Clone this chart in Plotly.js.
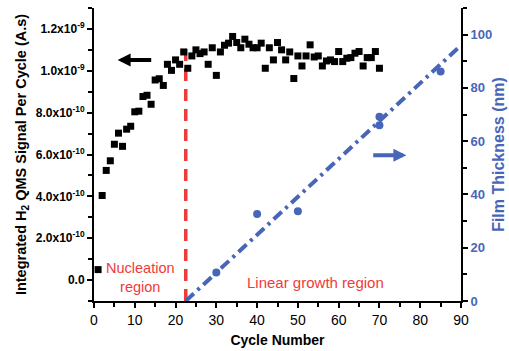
<!DOCTYPE html>
<html>
<head>
<meta charset="utf-8">
<script src="https://cdn.plot.ly/plotly-3.0.1.min.js"></script>
<style>html,body{margin:0;padding:0;background:#fff;}#chart{width:509px;height:351px;}</style>
</head>
<body>
<div id="chart"></div>
<script>
// Integrated H2 QMS signal per cycle (A.s)
const signalCycles = [1,2,3,4,5,6,7,8,9,10,11,12,13,14,15,16,17,18,19,20,21,22,23,24,25,26,27,28,29,30,31,32,33,34,35,36,37,38,39,40,41,42,43,44,45,46,47,48,49,50,51,52,53,54,55,56,57,58,59,60,61,62,63,64,65,66,67,68,69,70];
const signalValues = [0.50e-10,4.04e-10,5.24e-10,5.70e-10,6.49e-10,7.02e-10,6.39e-10,7.21e-10,7.35e-10,8.04e-10,
  8.07e-10,8.77e-10,8.83e-10,8.40e-10,9.56e-10,9.62e-10,9.30e-10,10.31e-10,10.02e-10,10.52e-10,
  10.31e-10,10.90e-10,10.12e-10,10.71e-10,11.00e-10,10.82e-10,10.90e-10,10.31e-10,11.10e-10,9.78e-10,
  10.90e-10,11.22e-10,11.32e-10,11.64e-10,11.35e-10,11.10e-10,11.51e-10,11.27e-10,11.10e-10,11.10e-10,
  11.32e-10,10.12e-10,11.10e-10,10.52e-10,11.35e-10,11.00e-10,10.52e-10,10.90e-10,9.63e-10,10.71e-10,
  10.23e-10,10.71e-10,11.24e-10,10.66e-10,10.71e-10,10.23e-10,10.47e-10,10.52e-10,10.44e-10,10.92e-10,
  10.44e-10,10.60e-10,10.63e-10,10.84e-10,10.92e-10,10.23e-10,10.63e-10,10.63e-10,10.92e-10,10.12e-10];
// Film thickness (nm)
const thicknessCycles = [30,40,50,70,70,85];
const thicknessValues = [10.7,32.7,33.7,69.2,66.0,86.2];
// Linear growth fit
const fitCycles = [22.5,90];
const fitThickness = [0,96];
// Nucleation boundary
const boundaryCycles = [22.5,22.5];
const boundarySignal = [-1.0e-10,11.4e-10];
// Tick labels
const leftTickVals = [0,2e-10,4e-10,6e-10,8e-10,10e-10,12e-10];
const leftTickText = ['0.0','2.0x10<sup>-10</sup>','4.0x10<sup>-10</sup>','6.0x10<sup>-10</sup>','8.0x10<sup>-10</sup>','1.0x10<sup>-9</sup>','1.2x10<sup>-9</sup>'];
const rightTickVals = [0,20,40,60,80,100];
const xTickVals = [0,10,20,30,40,50,60,70,80,90];

const RED = '#ef3b3b';
const BLUE = '#4766ba';
const FONT = 'Arial, "Liberation Sans", sans-serif';

const traces = [
  {x: boundaryCycles, y: boundarySignal, type:'scatter', mode:'lines', yaxis:'y',
   line:{color:RED, width:3.5, dash:'12px,8px'}, hoverinfo:'skip'},
  {x: fitCycles, y: fitThickness, type:'scatter', mode:'lines', yaxis:'y2',
   line:{color:BLUE, width:4, dash:'11px,5px,3px,5px'}, cliponaxis:false, hoverinfo:'skip'},
  {x: thicknessCycles, y: thicknessValues, type:'scatter', mode:'markers', yaxis:'y2',
   marker:{color:BLUE, size:8, symbol:'circle'}},
  {x: signalCycles, y: signalValues, type:'scatter', mode:'markers', yaxis:'y',
   marker:{color:'#000', size:7, symbol:'square'}, cliponaxis:false}
];

const layout = {
  width:509, height:351,
  margin:{l:94, r:48, t:8, b:50},
  paper_bgcolor:'#fff', plot_bgcolor:'#fff',
  showlegend:false,
  font:{family:FONT, color:'#000'},
  xaxis:{range:[0,90], tickvals:xTickVals, ticks:'outside', ticklen:5, tickwidth:2, tickcolor:'#000',
    showline:true, linecolor:'#000', linewidth:2, showgrid:false, zeroline:false,
    tickfont:{size:14, color:'#000'},
    minor:{dtick:5, ticks:'outside', ticklen:4, tickwidth:2, tickcolor:'#000'},
    title:{text:'<b>Cycle Number</b>', font:{size:14, color:'#000'}, standoff:8}},
  yaxis:{range:[-1.0e-10,13.0e-10], tickvals:leftTickVals, ticktext:leftTickText, ticks:'outside', ticklen:5, tickwidth:2, tickcolor:'#000',
    showline:true, linecolor:'#000', linewidth:2, showgrid:false, zeroline:false,
    tickfont:{size:12, color:'#000', weight:'bold'},
    minor:{dtick:1e-10, tick0:0, ticks:'outside', ticklen:4, tickwidth:2, tickcolor:'#000'},
    title:{text:'<b>Integrated H<sub>2</sub> QMS Signal Per Cycle (A.s)</b>', font:{size:14.5, color:'#000'}, standoff:6}},
  yaxis2:{range:[0,110], overlaying:'y', side:'right', tickvals:rightTickVals, ticks:'outside', ticklen:5, tickwidth:2, tickcolor:'#000',
    showline:true, linecolor:'#000', linewidth:2, showgrid:false, zeroline:false,
    tickfont:{size:13, color:BLUE, weight:'bold'},
    minor:{dtick:10, ticks:'outside', ticklen:4, tickwidth:2, tickcolor:'#000'},
    title:{text:'<b>Film Thickness (nm)</b>', font:{size:16, color:BLUE}, standoff:1}},
  annotations:[
    {x:5.8, y:10.52e-10, xref:'x', yref:'y', ax:14.4, ay:10.52e-10, axref:'x', ayref:'y',
     showarrow:true, arrowhead:2, arrowsize:0.65, arrowwidth:4, arrowcolor:'#000', text:''},
    {x:76.6, y:54.7, xref:'x', yref:'y2', ax:68.1, ay:54.7, axref:'x', ayref:'y2',
     showarrow:true, arrowhead:2, arrowsize:0.65, arrowwidth:4, arrowcolor:BLUE, text:''},
    {x:11.3, y:0.1e-10, xref:'x', yref:'y', showarrow:false, text:'Nucleation<br>region',
     font:{size:14.5, color:RED}, align:'center'},
    {x:54.2, y:-0.1e-10, xref:'x', yref:'y', showarrow:false, text:'Linear growth region',
     font:{size:15, color:RED}}
  ]
};

Plotly.newPlot('chart', traces, layout, {displayModeBar:false, staticPlot:true});
</script>
</body>
</html>
